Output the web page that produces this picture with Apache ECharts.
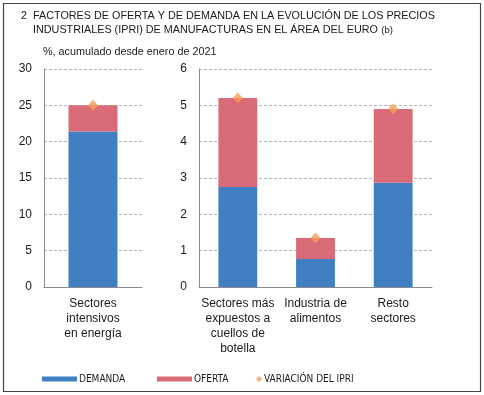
<!DOCTYPE html>
<html><head><meta charset="utf-8">
<script src="https://cdn.jsdelivr.net/npm/echarts@6/dist/echarts.min.js"></script>
<style>html,body{margin:0;padding:0;background:#fff}#c{width:484px;height:395px}</style>
</head><body><div id="c"></div>
<script>
const catsLeft = ['Sectores\nintensivos\nen energía'];
const catsRight = ['Sectores más\nexpuestos a\ncuellos de\nbotella', 'Industria de\nalimentos', 'Resto\nsectores'];
const demandaLeft = [21.4];
const ofertaLeft = [3.6];
const ipriLeft = [25.0];
const demandaRight = [2.75, 0.77, 2.87];
const ofertaRight = [2.45, 0.58, 2.03];
const ipriRight = [5.2, 1.35, 4.9];
const yTicksLeft = {min: 0, max: 30, interval: 5};
const yTicksRight = {min: 0, max: 6, interval: 1};

const BLUE = '#3f7fc2', RED = '#d96b78', ORANGE = '#f59c55';
const FONT = 'Liberation Sans, Arial, sans-serif';
const NARROW = 'DejaVu Sans Condensed, Liberation Sans Narrow, Arial Narrow, sans-serif';

const chart = echarts.init(document.getElementById('c'), null, {renderer: 'canvas'});

function xAxis(idx, data) {
  return {
    type: 'category', gridIndex: idx, data: data,
    axisLine: {lineStyle: {color: '#8a8a8a', width: 1}},
    axisTick: {inside: true, length: 3, lineStyle: {color: '#8a8a8a'}},
    axisLabel: {color: '#1a1a1a', fontSize: 12, fontFamily: FONT, lineHeight: 15, margin: 9, interval: 0}
  };
}
function yAxis(idx, t) {
  return {
    type: 'value', gridIndex: idx, min: t.min, max: t.max, interval: t.interval,
    axisLine: {show: true, lineStyle: {color: '#8a8a8a'}},
    axisTick: {show: false},
    splitLine: {show: true, lineStyle: {color: '#b5b5b5', type: [3, 2], width: 1}},
    axisLabel: {color: '#1a1a1a', fontSize: 12, fontFamily: FONT, margin: 12}
  };
}
function legendItem(name, left, icon, w, h) {
  return {
    data: [name], left: left, top: 374, icon: icon, itemWidth: w, itemHeight: h,
    itemGap: 4, textStyle: {fontSize: 10, fontFamily: NARROW, color: '#1a1a1a', padding: [0,0,0,-3]},
    padding: 0, selectedMode: false
  };
}

chart.setOption({
  animation: false,
  grid: [
    {left: 44, right: 342, top: 69, bottom: 108},
    {left: 199, right: 52, top: 69, bottom: 108}
  ],
  xAxis: [xAxis(0, catsLeft), xAxis(1, catsRight)],
  yAxis: [yAxis(0, yTicksLeft), yAxis(1, yTicksRight)],
  legend: [
    legendItem('DEMANDA', 42, 'rect', 35, 5),
    legendItem('OFERTA', 157, 'rect', 35, 5),
    legendItem('VARIACIÓN DEL IPRI', 256, 'diamond', 6, 6)
  ],
  graphic: [
    {type: 'rect', shape: {x: 3.5, y: 3.5, width: 477, height: 388}, style: {fill: 'none', stroke: '#444', lineWidth: 1.2}, silent: true},
    {type: 'text', left: 21, top: 11, style: {text: '2', font: '10.8px ' + FONT, fill: '#1a1a1a'}},
    {type: 'text', left: 33, top: 11, style: {
      text: '{a|FACTORES DE OFERTA Y DE DEMANDA EN LA EVOLUCIÓN DE LOS PRECIOS}\n{a|INDUSTRIALES (IPRI) DE MANUFACTURAS EN EL ÁREA DEL EURO} {b|(b)}',
      rich: {a: {fontSize: 10.8, fontFamily: FONT, fill: '#1a1a1a', lineHeight: 14}, b: {fontSize: 9.5, fontFamily: FONT, fill: '#1a1a1a', lineHeight: 14}},
      fill: '#1a1a1a'}},
    {type: 'text', left: 43, top: 47, style: {text: '%, acumulado desde enero de 2021', font: '10.8px ' + FONT, fill: '#1a1a1a'}}
  ],
  series: [
    {name: 'DEMANDA', type: 'bar', stack: 'l', xAxisIndex: 0, yAxisIndex: 0, data: demandaLeft, barWidth: '50%', itemStyle: {color: BLUE}},
    {name: 'OFERTA', type: 'bar', stack: 'l', xAxisIndex: 0, yAxisIndex: 0, data: ofertaLeft, barWidth: '50%', itemStyle: {color: RED}},
    {name: 'VARIACIÓN DEL IPRI', type: 'scatter', xAxisIndex: 0, yAxisIndex: 0, data: ipriLeft, symbol: 'diamond', symbolSize: [10, 11], itemStyle: {color: ORANGE}, z: 5},
    {name: 'DEMANDA', type: 'bar', stack: 'r', xAxisIndex: 1, yAxisIndex: 1, data: demandaRight, barWidth: '50%', itemStyle: {color: BLUE}},
    {name: 'OFERTA', type: 'bar', stack: 'r', xAxisIndex: 1, yAxisIndex: 1, data: ofertaRight, barWidth: '50%', itemStyle: {color: RED}},
    {name: 'VARIACIÓN DEL IPRI', type: 'scatter', xAxisIndex: 1, yAxisIndex: 1, data: ipriRight, symbol: 'diamond', symbolSize: [10, 11], itemStyle: {color: ORANGE}, z: 5}
  ]
});
</script></body></html>
